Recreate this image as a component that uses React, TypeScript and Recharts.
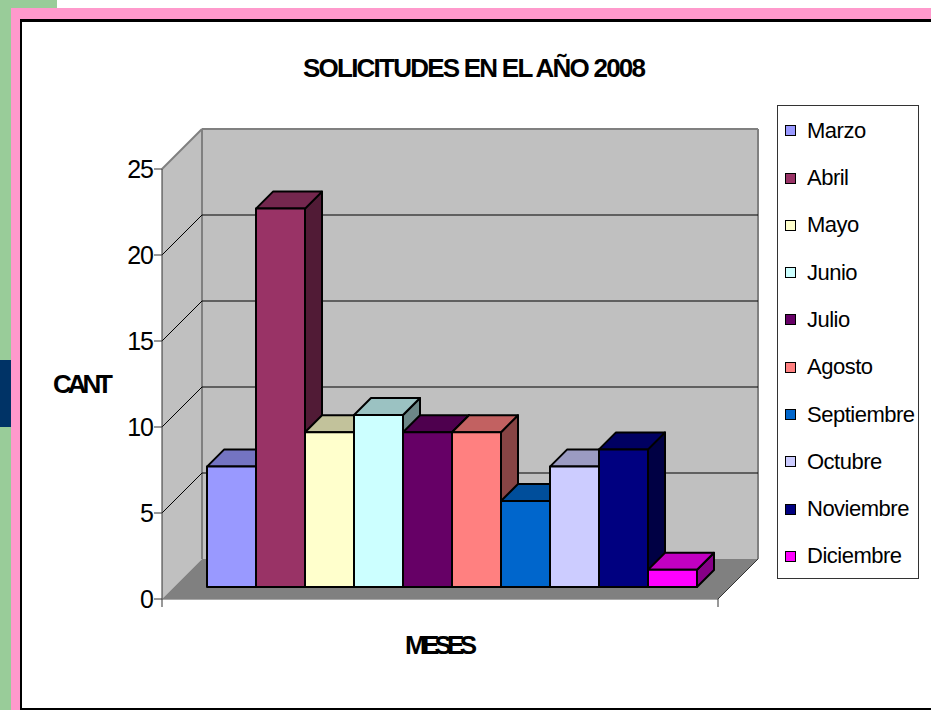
import React from 'react';
import {
  BarChart,
  Bar,
  XAxis,
  YAxis,
  CartesianGrid,
  Legend,
  ReferenceArea,
} from 'recharts';

const months = ['Marzo', 'Abril', 'Mayo', 'Junio', 'Julio', 'Agosto', 'Septiembre', 'Octubre', 'Noviembre', 'Diciembre'];
const solicitudes = [7, 22, 9, 10, 9, 9, 5, 7, 8, 1];
const monthColors = ['#9999FF', '#993366', '#FFFFCC', '#CCFFFF', '#660066', '#FF8080', '#0066CC', '#CCCCFF', '#000080', '#FF00FF'];
const yTicks = [0, 5, 10, 15, 20, 25];
const gridValues = [5, 10, 15, 20];

const FONT = '"Liberation Sans", Arial, sans-serif';
const WALL = 40; // depth of the 3d box
const BAR_OFF = 12; // where the bar fronts sit inside the box
const BAR_DEPTH = 17;

// one row, each month is its own series (like the excel chart)
const chartData = [
  months.reduce((row: any, m, i) => ({ ...row, [m]: solicitudes[i] }), { name: '2008' }),
];

const shade = (hex: string, k: number) => {
  const n = parseInt(hex.slice(1), 16);
  const r = Math.round(((n >> 16) & 255) * k);
  const g = Math.round(((n >> 8) & 255) * k);
  const b = Math.round((n & 255) * k);
  return `rgb(${r},${g},${b})`;
};

const Bar3D = (props: any) => {
  const { x, y, width, height, fill } = props;
  if (width == null || height == null) return null;
  const fx = x + BAR_OFF;
  const fy = y - BAR_OFF;
  const d = BAR_DEPTH;
  return (
    <g stroke="#000" strokeWidth={2} strokeLinejoin="round">
      <polygon
        points={`${fx + width},${fy} ${fx + width + d},${fy - d} ${fx + width + d},${fy + height - d} ${fx + width},${fy + height}`}
        fill={shade(fill, 0.53)}
      />
      <polygon
        points={`${fx},${fy} ${fx + d},${fy - d} ${fx + width + d},${fy - d} ${fx + width},${fy}`}
        fill={shade(fill, 0.76)}
      />
      <rect x={fx} y={fy} width={width} height={height} fill={fill} />
    </g>
  );
};

// back wall, side wall and floor drawn from the plot rectangle
const Walls = (props: any) => {
  const { x, y, width, height } = props;
  const bx = x + WALL;
  const by = y - WALL;
  const bottom = y + height;
  return (
    <g>
      <polygon points={`${x},${y} ${bx},${by} ${bx},${by + height} ${x},${bottom}`} fill="#C0C0C0" />
      <rect x={bx} y={by} width={width} height={height} fill="#C0C0C0" />
      <polygon
        points={`${x},${bottom} ${x + width},${bottom} ${bx + width},${by + height} ${bx},${by + height}`}
        fill="#808080"
      />
      <line x1={x} y1={y} x2={bx} y2={by} stroke="#808080" strokeWidth={2} />
      <line x1={bx} y1={by} x2={bx + width} y2={by} stroke="#808080" strokeWidth={2} />
      <line x1={bx} y1={by} x2={bx} y2={by + height} stroke="#808080" strokeWidth={2} />
      <line x1={bx + width} y1={by} x2={bx + width} y2={by + height} stroke="#808080" strokeWidth={2} />
      <line x1={x + width} y1={bottom} x2={bx + width} y2={by + height} stroke="#333" strokeWidth={1} />
      <line x1={x} y1={bottom + 0.5} x2={x + width} y2={bottom + 0.5} stroke="#a8a8a8" strokeWidth={1} />
      <line x1={x} y1={bottom} x2={x} y2={bottom + 8} stroke="#333" strokeWidth={1} />
      <line x1={x + width} y1={bottom} x2={x + width} y2={bottom + 8} stroke="#333" strokeWidth={1} />
    </g>
  );
};

const GridLine = (props: any) => {
  const { x1, y1, x2 } = props;
  return (
    <g key={props.key} stroke="#000" strokeWidth={1}>
      <line x1={x1} y1={y1} x2={x1 + WALL} y2={y1 - WALL} />
      <line x1={x1 + WALL} y1={y1 - WALL} x2={x2 + WALL} y2={y1 - WALL} />
    </g>
  );
};

const YTick = (props: any) => {
  const { x, y, payload } = props;
  return (
    <text x={x} y={y} dy={9} textAnchor="end" fontSize={25} fill="#000" fontFamily={FONT} letterSpacing={-1}>
      {payload.value}
    </text>
  );
};

const LegendBox = (props: any) => {
  // keep the series order (recharts sorts by name otherwise)
  const payload = [...(props.payload || [])].sort(
    (a: any, b: any) => months.indexOf(a.value) - months.indexOf(b.value),
  );
  return (
    <div
      style={{
        width: 142,
        height: 474,
        border: '1px solid #333',
        boxSizing: 'border-box',
        background: '#fff',
        position: 'relative',
        fontFamily: FONT,
      }}
    >
      {payload.map((e: any, i: number) => (
        <div
          key={e.value}
          style={{ position: 'absolute', left: 7, top: 11.7 + 47.3 * i, height: 26, display: 'flex', alignItems: 'center' }}
        >
          <span
            style={{
              width: 11,
              height: 11,
              background: e.color,
              border: '1.5px solid #000',
              boxSizing: 'border-box',
              marginRight: 11,
            }}
          />
          <span style={{ fontSize: 22, letterSpacing: -0.5, lineHeight: '26px', whiteSpace: 'nowrap', color: '#000' }}>
            {e.value}
          </span>
        </div>
      ))}
    </div>
  );
};

export default function App() {
  return (
    <div style={{ position: 'absolute', left: 0, top: 0, width: 931, height: 710, background: '#fff', overflow: 'hidden' }}>
      {/* page frame behind the chart */}
      <div style={{ position: 'absolute', left: 0, top: 0, width: 57, height: 8, background: '#99CC99' }} />
      <div style={{ position: 'absolute', left: 0, top: 0, width: 11, height: 710, background: '#99CC99' }} />
      <div style={{ position: 'absolute', left: 0, top: 360, width: 11, height: 67, background: '#003366' }} />
      <div style={{ position: 'absolute', left: 11, top: 8, width: 920, height: 11, background: '#FF99CC' }} />
      <div style={{ position: 'absolute', left: 11, top: 8, width: 9, height: 702, background: '#FF99CC' }} />
      <div style={{ position: 'absolute', left: 20, top: 19, width: 911, height: 3, background: '#000' }} />
      <div style={{ position: 'absolute', left: 20, top: 19, width: 2, height: 691, background: '#000' }} />
      <div style={{ position: 'absolute', left: 20, top: 708, width: 911, height: 2, background: '#000' }} />

      <div style={{ position: 'absolute', left: 0, top: 0 }}>
        <BarChart
          width={931}
          height={710}
          data={chartData}
          margin={{ top: 169, right: 213, bottom: 0, left: 0 }}
          barCategoryGap={33}
          barGap={0}
          style={{ fontFamily: FONT }}
        >
          <ReferenceArea y1={0} y2={25} ifOverflow="visible" zIndex={-200} shape={Walls} />
          <CartesianGrid vertical={false} horizontalValues={gridValues} horizontal={GridLine} />
          <XAxis dataKey="name" tick={false} axisLine={false} tickLine={false} height={111} />
          <YAxis
            width={162}
            domain={[0, 25]}
            ticks={yTicks}
            interval={0}
            tickSize={8}
            tickMargin={1}
            axisLine={{ stroke: '#333' }}
            tickLine={{ stroke: '#333' }}
            tick={YTick}
          />
          <Legend
            content={LegendBox}
            layout="horizontal"
            verticalAlign="middle"
            align="center"
            wrapperStyle={{ left: 777, top: 105, width: 142, height: 474 }}
          />
          {months.map((m, i) => (
            <Bar key={m} dataKey={m} name={m} fill={monthColors[i]} shape={Bar3D} isAnimationActive={false} />
          ))}
          <text x={303} y={77} fontSize={26} fontWeight="bold" fontFamily={FONT} textLength={343} lengthAdjust="spacing" fill="#000">
            SOLICITUDES EN EL AÑO 2008
          </text>
          <text x={53} y={393} fontSize={26} fontWeight="bold" fontFamily={FONT} textLength={60} lengthAdjust="spacing" fill="#000">
            CANT
          </text>
          <text x={405} y={654} fontSize={26} fontWeight="bold" fontFamily={FONT} textLength={72} lengthAdjust="spacing" fill="#000">
            MESES
          </text>
        </BarChart>
      </div>
    </div>
  );
}
